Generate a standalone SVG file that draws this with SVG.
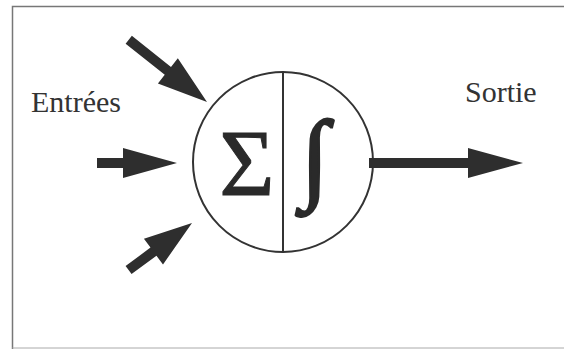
<svg xmlns="http://www.w3.org/2000/svg" width="564" height="349" viewBox="0 0 564 349">
<style>
.lbl{font-size:30px;fill:#333}
.arr{fill:#2e2e2e}
.ring{fill:#fff;stroke:#333;stroke-width:2}
</style>
<rect x="0" y="0" width="564" height="349" fill="#fff"/>
<path d="M12.5,349 V6.5 H564" fill="none" stroke="#777" stroke-width="1.5"/>
<path d="M12.5,348 H564" fill="none" stroke="#aaa" stroke-width="1"/>
<g id="neuron">
<circle class="ring" cx="283" cy="162" r="90"/>
<line x1="283" y1="72" x2="283" y2="252" stroke="#333" stroke-width="2"/>
<text font-family="Liberation Serif" fill="#2a2a2a" stroke="#2a2a2a" stroke-width="1" x="247" y="196" font-size="95" text-anchor="middle">Σ</text>
<text font-family="Liberation Serif" fill="#2a2a2a" stroke="#2a2a2a" stroke-width="2.5" x="315" y="190" font-size="100" text-anchor="middle">∫</text>
</g>
<g id="label-entrees"><text class="lbl" font-family="Liberation Serif" x="31" y="112">Entrées</text></g>
<g id="label-sortie"><text class="lbl" font-family="Liberation Serif" x="465" y="102">Sortie</text></g>
<g id="connectors">
<polygon class="arr" transform="translate(207,102) rotate(38.5)" points="0,0 -50,-16 -50,-5 -100,-5 -100,5 -50,5 -50,16"/>
<polygon class="arr" transform="translate(177,163)" points="0,0 -54,-15 -54,-5 -80,-5 -80,5 -54,5 -54,15"/>
<polygon class="arr" transform="translate(192,223) rotate(-36.6)" points="0,0 -48,-16 -48,-5 -79,-5 -79,5 -48,5 -48,16"/>
<polygon class="arr" transform="translate(523,163)" points="0,0 -55,-15 -55,-5 -154,-5 -154,5 -55,5 -55,15"/>
</g>
</svg>
